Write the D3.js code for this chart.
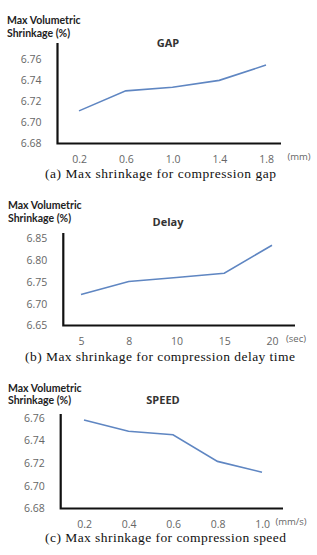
<!DOCTYPE html>
<html>
<head>
<meta charset="utf-8">
<script src="https://cdn.jsdelivr.net/npm/d3@7"></script>
<style>
  body { margin: 0; background: #fff; }
  svg { display: block; }
</style>
</head>
<body>
<svg id="chart" width="317" height="555"></svg>
<script>
// data
const gapCats = ["0.2", "0.6", "1.0", "1.4", "1.8"];
const gapValues = [6.711, 6.730, 6.7335, 6.740, 6.7545];
const gapTicks = [6.68, 6.70, 6.72, 6.74, 6.76];

const delayCats = ["5", "8", "10", "15", "20"];
const delayValues = [6.721, 6.751, 6.760, 6.770, 6.834];
const delayTicks = [6.65, 6.70, 6.75, 6.80, 6.85];

const speedCats = ["0.2", "0.4", "0.6", "0.8", "1.0"];
const speedValues = [6.758, 6.748, 6.745, 6.7215, 6.712];
const speedTicks = [6.68, 6.70, 6.72, 6.74, 6.76];

const svg = d3.select("#chart");
const lineColor = "#5f86c2";

function panel(opt) {
  const g = svg.append("g");
  const x = d3.scalePoint().domain(opt.cats).range(opt.xRange);
  const y = d3.scaleLinear().domain(d3.extent(opt.ticks)).range(opt.yRange);

  // y title, two lines
  g.append("text")
    .attr("x", opt.titleX)
    .attr("y", opt.titleY)
    .style("font-family", "Lato, sans-serif")
    .style("font-weight", "bold")
    .style("font-size", "10.5px")
    .style("fill", "#222")
    .text("Max Volumetric");
  g.append("text")
    .attr("x", opt.titleX)
    .attr("y", opt.titleY + 12.5)
    .style("font-family", "Lato, sans-serif")
    .style("font-weight", "bold")
    .style("font-size", "10.5px")
    .style("fill", "#222")
    .text("Shrinkage (%)");

  // chart title
  g.append("text")
    .attr("x", opt.headX)
    .attr("y", opt.headY)
    .attr("text-anchor", "middle")
    .style("font-family", "'Open Sans', sans-serif")
    .style("font-weight", "bold")
    .style("font-size", "11px")
    .style("fill", "#333")
    .text(opt.head);

  // y ticks
  const yAxis = g.append("g")
    .attr("transform", `translate(${opt.axisX - 16},0)`)
    .call(d3.axisLeft(y).tickValues(opt.ticks).tickSize(0).tickPadding(0)
      .tickFormat(d3.format(".2f")));
  yAxis.select(".domain").remove();
  yAxis.selectAll("text")
    .style("font-family", "'Open Sans', sans-serif")
    .style("font-size", "10.5px")
    .style("fill", "#666");

  // x ticks
  const xAxis = g.append("g")
    .attr("transform", `translate(0,${opt.yRange[0] + 6})`)
    .call(d3.axisBottom(x).tickSize(0).tickPadding(6));
  xAxis.select(".domain").remove();
  xAxis.selectAll("text")
    .style("font-family", "'Open Sans', sans-serif")
    .style("font-size", "10.5px")
    .style("fill", "#666");

  g.append("text")
    .attr("x", opt.unitX)
    .attr("y", opt.yRange[0] + 16)
    .attr("text-anchor", "middle")
    .style("font-family", "'Open Sans', sans-serif")
    .style("font-size", "9.5px")
    .style("fill", "#666")
    .text(opt.unit);

  // axes lines
  g.append("path")
    .attr("d", `M${opt.axisX},${opt.axisTop}V${opt.yRange[0]}H${opt.axisRight}`)
    .attr("fill", "none")
    .attr("stroke", "#111")
    .attr("stroke-width", 2.2);

  // series
  const line = d3.line()
    .x((d, i) => x(opt.cats[i]))
    .y(d => y(d));
  g.append("path")
    .datum(opt.values)
    .attr("d", line)
    .attr("fill", "none")
    .attr("stroke", lineColor)
    .attr("stroke-width", 1.6);

  // caption
  g.append("text")
    .attr("x", opt.capX)
    .attr("y", opt.capY)
    .attr("textLength", opt.capW)
    .attr("lengthAdjust", "spacing")
    .style("font-family", "'Liberation Serif', serif")
    .style("font-size", "13.5px")
    .style("fill", "#111")
    .text(opt.caption);
}

panel({
  cats: gapCats, values: gapValues, ticks: gapTicks,
  xRange: [79, 266], yRange: [143.5, 59.3],
  axisX: 57.5, axisTop: 43, axisRight: 281,
  titleX: 7, titleY: 24, head: "GAP", headX: 168, headY: 47,
  unit: "(mm)", unitX: 299,
  caption: "(a) Max shrinkage for compression gap", capX: 45, capY: 178, capW: 231
});

panel({
  cats: delayCats, values: delayValues, ticks: delayTicks,
  xRange: [81, 272], yRange: [325.5, 238.3],
  axisX: 63.3, axisTop: 233, axisRight: 295,
  titleX: 8, titleY: 209, head: "Delay", headX: 168, headY: 226,
  unit: "(sec)", unitX: 296,
  caption: "(b) Max shrinkage for compression delay time", capX: 25, capY: 361, capW: 270
});

panel({
  cats: speedCats, values: speedValues, ticks: speedTicks,
  xRange: [84, 262], yRange: [508.5, 417.7],
  axisX: 60.7, axisTop: 414, axisRight: 283,
  titleX: 8, titleY: 391.5, head: "SPEED", headX: 163, headY: 404,
  unit: "(mm/s)", unitX: 291,
  caption: "(c) Max shrinkage for compression speed", capX: 45, capY: 542, capW: 241
});

// figure caption, cut off by the bottom edge as in the source
svg.append("text")
  .attr("x", 20)
  .attr("y", 564)
  .attr("textLength", 300)
  .attr("lengthAdjust", "spacing")
  .style("font-family", "'Liberation Serif', serif")
  .style("font-size", "13px")
  .style("fill", "#111")
  .text("6. Variations of maximum volumetric shrinkage");
</script>
</body>
</html>
